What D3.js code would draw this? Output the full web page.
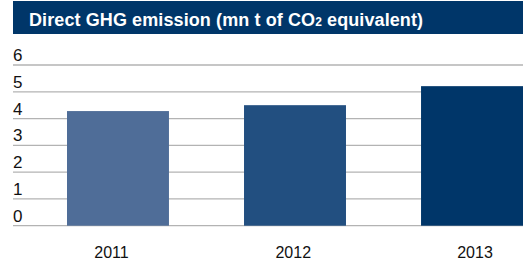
<!DOCTYPE html>
<html>
<head>
<meta charset="utf-8">
<script src="https://cdn.jsdelivr.net/npm/d3@7"></script>
<style>
  body { margin: 0; background: #fff; }
  svg { display: block; font-family: "Liberation Sans", Arial, sans-serif; }
</style>
</head>
<body>
<svg id="chart" width="523" height="264"></svg>
<script>
// data
const years = ["2011", "2012", "2013"];
const emissions = [4.28, 4.5, 5.21];
const barColors = ["#4f6d98", "#224f80", "#003669"];
const yTicks = [0, 1, 2, 3, 4, 5, 6];

const svg = d3.select("#chart");
const W = 523;

// header band
svg.append("rect")
  .attr("x", 13).attr("y", 1)
  .attr("width", W - 13).attr("height", 33)
  .attr("fill", "#003669");

const title = svg.append("text")
  .attr("x", 29).attr("y", 25.5)
  .attr("fill", "#fff")
  .attr("font-weight", "bold")
  .attr("font-size", 18)
  .attr("letter-spacing", 0.1);
title.append("tspan").text("Direct GHG emission (mn t of CO");
title.append("tspan").attr("font-size", 12).text("2");
title.append("tspan").text(" equivalent)");

// scales
const y = d3.scaleLinear().domain([0, 6]).range([225.7, 65]);
const x = d3.scaleBand().domain(years).range([67, 523]).paddingInner(0.424).paddingOuter(0);
const xLabel = d3.scalePoint().domain(years).range([111.5, 475]);

// grid lines + labels sitting on them
const grid = svg.append("g");
grid.selectAll("line")
  .data(yTicks)
  .join("line")
    .attr("x1", 13).attr("x2", W)
    .attr("y1", d => y(d)).attr("y2", d => y(d))
    .attr("stroke", "#b3b3b3")
    .attr("stroke-width", 1.3);

grid.selectAll("text")
  .data(yTicks)
  .join("text")
    .attr("x", 13)
    .attr("y", d => y(d) - 4)
    .attr("font-size", 17)
    .attr("fill", "#111")
    .text(d => d);

// bars
svg.append("g").selectAll("rect")
  .data(emissions)
  .join("rect")
    .attr("x", (d, i) => x(years[i]))
    .attr("width", x.bandwidth())
    .attr("y", d => y(d))
    .attr("height", d => y(0) - y(d))
    .attr("fill", (d, i) => barColors[i]);

// category labels under the bars
svg.append("g").selectAll("text")
  .data(years)
  .join("text")
    .attr("x", d => xLabel(d))
    .attr("y", 258)
    .attr("text-anchor", "middle")
    .attr("font-size", 16)
    .attr("fill", "#111")
    .text(d => d);
</script>
</body>
</html>
